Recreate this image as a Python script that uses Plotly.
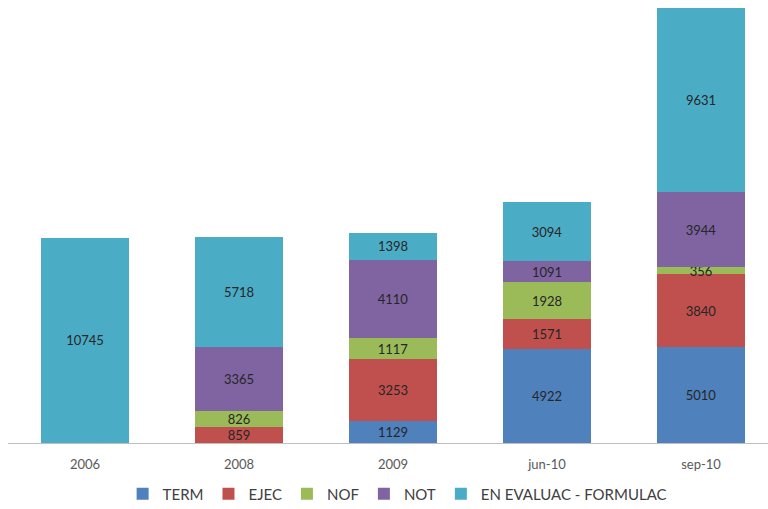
import plotly.graph_objects as go

categories = ["2006", "2008", "2009", "jun-10", "sep-10"]
term = [0, 0, 1129, 4922, 5010]
ejec = [0, 859, 3253, 1571, 3840]
nof = [0, 826, 1117, 1928, 356]
not_ = [0, 3365, 4110, 1091, 3944]
en_eval = [10745, 5718, 1398, 3094, 9631]

series = [
    ("TERM", term, "#4F81BD"),
    ("EJEC", ejec, "#C0504D"),
    ("NOF", nof, "#9BBB59"),
    ("NOT", not_, "#8064A2"),
    ("EN EVALUAC - FORMULAC", en_eval, "#4BACC6"),
]

fig = go.Figure()
for name, vals, color in series:
    fig.add_trace(go.Bar(
        x=categories, y=vals, name=name,
        marker=dict(color=color, line=dict(width=0)),
        text=[str(v) if v else "" for v in vals],
        textposition="inside", insidetextanchor="middle",
        textangle=0, constraintext="none", cliponaxis=False,
        textfont=dict(family="Lato, sans-serif", size=13, color="#262626"),
        width=0.57,
    ))

fig.update_layout(
    barmode="stack",
    width=768, height=509,
    margin=dict(l=8, r=0, t=8, b=66, autoexpand=False),
    paper_bgcolor="white", plot_bgcolor="white",
    xaxis=dict(
        type="category", range=[-0.5, 4.435],
        showline=True, linecolor="#BFBFBF", linewidth=1,
        ticks="outside", ticklen=9, tickcolor="rgba(0,0,0,0)",
        showgrid=False,
        tickfont=dict(family="Lato, sans-serif", size=13, color="#595959"),
    ),
    yaxis=dict(range=[0, 22790], visible=False, showgrid=False),
    legend=dict(
        orientation="h", x=0.512, xanchor="center", y=-0.117, yanchor="middle",
        font=dict(family="Lato, sans-serif", size=15, color="#404040"),
        traceorder="normal", itemwidth=30,
    ),
    showlegend=True,
)

fig.write_html("out.html")
